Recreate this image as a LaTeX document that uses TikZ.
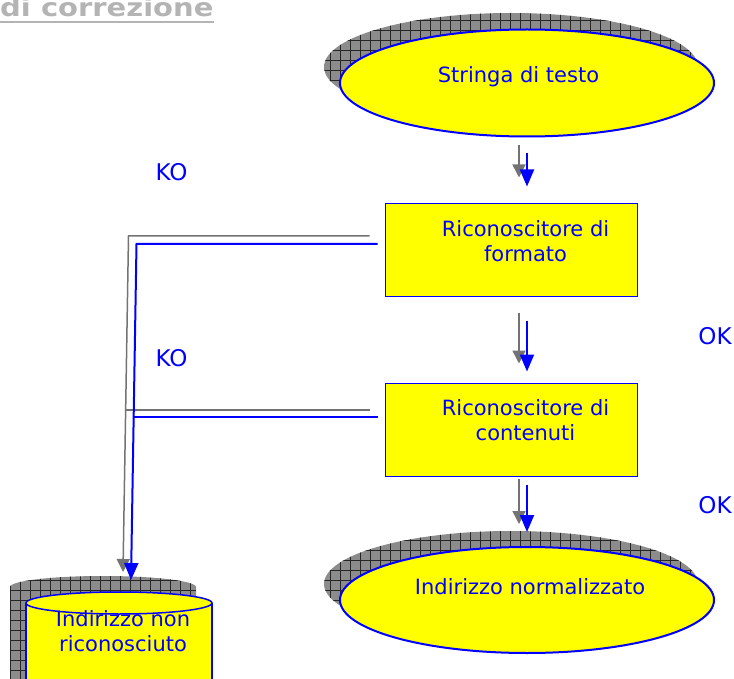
\documentclass[tikz,border=0pt]{standalone}
\usepackage{fontspec}
\setmainfont{DejaVu Sans}
\usetikzlibrary{positioning,arrows.meta,shapes.geometric,calc}
\pgfdeclarelayer{bg}
\pgfsetlayers{bg,main}
\definecolor{giallo}{RGB}{255,255,0}
\definecolor{blu}{RGB}{0,0,255}
\definecolor{grigiotitolo}{RGB}{180,180,180}
\tikzset{
	>={Triangle[width=14pt,length=17pt]}
}

\begin{document}
\begin{tikzpicture}[
x = 1pt, y = -1pt,
every node/.style = {
	font = \fontsize{21}{25}\selectfont,
	text = blu
},
terminal/.style = {
	ellipse,
	draw = blu,
	line width = 2pt,
	fill = giallo,
	minimum width = 374pt,
	minimum height = 107pt,
	inner sep = 0pt
},
process/.style = {
	draw = blu,
	line width = 1pt,
	fill = giallo,
	minimum width = 252pt,
	minimum height = 93pt
},
caption/.style = {
	align = center,
	inner sep = 0pt
},
esito/.style = {
	font = \fontsize{23}{27}\selectfont,
	inner sep = 0pt
},
flow/.style = {
	->,
	draw = blu,
	line width = 2pt
},
shadowflow/.style = {
	-{Triangle[width=13pt,length=13pt]},
	draw = black!55,
	line width = 1.5pt
},
shadowfill/.style = {
	fill = black!45,
	path picture = {
		\draw [black!85, line width = .6pt] (path picture bounding box.south west) grid [step = 10pt] (path picture bounding box.north east);
	}
}
]

\useasboundingbox (0,0) rectangle (734,679);

% titolo (tagliato in alto)
\node (titolo) [anchor = base west, inner sep = 0pt, text = grigiotitolo, font = \fontsize{25}{30}\selectfont\bfseries] at (0,17) {\scalebox{1.16}[1]{di correzione}};
\draw [grigiotitolo, line width = 2pt] ([yshift=-5pt]titolo.base west) -- ([yshift=-5pt]titolo.base east);

% blocchi
\node (stringa) [terminal] at (527,83) {};
\node (stringa_txt) [caption] at (518.5,76.5) {Stringa di testo};

\node (formato) [process] at (511,250.5) {};
\node (formato_txt) [caption] at ([xshift=14.5pt,yshift=9pt]formato.center) {Riconoscitore di\\formato};

\node (contenuti) [process, below = 85pt of formato] {};
\node (contenuti_txt) [caption] at ([xshift=14.5pt,yshift=9pt]contenuti.center) {Riconoscitore di\\contenuti};

\node (normalizzato) [terminal, minimum height = 106pt] at (527,600) {};
\node (normalizzato_txt) [caption] at (530,587) {Indirizzo normalizzato};

% cilindro
\draw [fill = giallo, draw = blu, line width = 1.5pt] (26,603) -- (26,700) -- (212,700) -- (212,603);
\draw [fill = giallo, draw = blu, line width = 1.5pt] (119,603) ellipse [x radius = 93pt, y radius = 11pt];
\node (nonric_txt) [caption] at (123,631) {Indirizzo non\\riconosciuto};
\coordinate (nonric_top) at (131,580);
\coordinate (nonric_ombra) at (123,572);

% ombre
\begin{pgfonlayer}{bg}
\path [shadowfill] ([xshift=-16pt,yshift=16pt]stringa.center) ellipse [x radius = 187pt, y radius = 54pt];
\path [shadowfill] ([xshift=-16pt,yshift=16pt]normalizzato.center) ellipse [x radius = 187pt, y radius = 53pt];
\path [shadowfill] (10,587) rectangle (196,700) (103,587) ellipse [x radius = 93pt, y radius = 11pt];
\end{pgfonlayer}

% esiti
\node (ko_formato) [esito] at (171.5,172.5) {KO};
\node (ko_contenuti) [esito] at (171.5,358) {KO};
\node (ok_formato) [esito] at (715,336) {OK};
\node (ok_contenuti) [esito] at (715,505) {OK};

% frecce (ombra)
\draw [shadowflow, shorten <= 8pt, shorten >= 26pt] ([xshift=-8pt]stringa.south) -- ([xshift=-8pt]stringa.south |- formato.north);
\draw [shadowflow, shorten <= 15pt, shorten >= 19pt] ([xshift=-8pt]stringa.south |- formato.south) -- ([xshift=-8pt]stringa.south |- contenuti.north);
\draw [shadowflow, shorten <= 2pt, shorten >= 22pt] ([xshift=-8pt]stringa.south |- contenuti.south) -- ([xshift=-8pt]normalizzato.north);
\draw [shadowflow] ([xshift=-15pt,yshift=14.5pt]formato.west) -- ++(-241,0) -- (nonric_ombra);
\draw [shadowflow, -] ([xshift=-15pt,yshift=19.5pt]contenuti.west) -- ++(-244,0);

% frecce
\draw [flow, shorten <= 16pt, shorten >= 17pt] (stringa.south) -- (stringa.south |- formato.north);
\draw [flow, shorten <= 23pt, shorten >= 11pt] (stringa.south |- formato.south) -- (stringa.south |- contenuti.north);
\draw [flow, shorten <= 8pt, shorten >= 14pt] (stringa.south |- contenuti.south) -- (normalizzato.north);
\draw [flow] ([xshift=-7pt,yshift=6.5pt]formato.west) -- ++(-241,0) -- (nonric_top);
\draw [flow, -] ([xshift=-7pt,yshift=12.5pt]contenuti.west) -- ++(-245,0);

\end{tikzpicture}
\end{document}
